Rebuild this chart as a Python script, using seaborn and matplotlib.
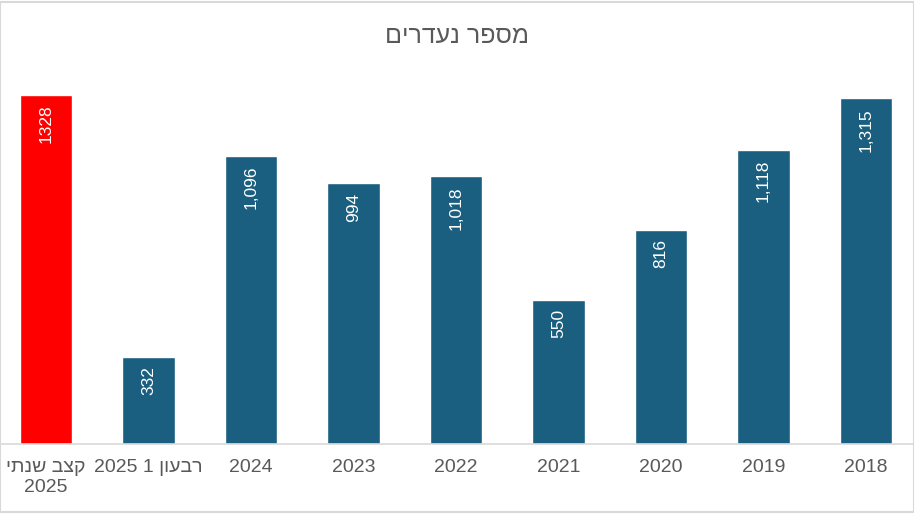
import matplotlib
matplotlib.use("Agg")
import matplotlib.pyplot as plt
import seaborn as sns
import pandas as pd

# visual order for Hebrew (matplotlib has no bidi support)
title = "םירדענ רפסמ"
categories = ["יתנש בצק\n2025", "2025 1 ןועבר", "2024", "2023", "2022",
              "2021", "2020", "2019", "2018"]
values = [1328, 332, 1096, 994, 1018, 550, 816, 1118, 1315]
value_labels = ["1328", "332", "1,096", "994", "1,018", "550", "816", "1,118", "1,315"]
colors = ["#FF0000"] + ["#1A5F80"] * 8

sns.set_theme(style="white")
plt.rcParams["font.family"] = ["Liberation Sans", "DejaVu Sans"]

df = pd.DataFrame({"cat": categories, "val": values})

fig = plt.figure(figsize=(9.14, 5.14), dpi=100)
ax = fig.add_axes([0.0, 0.136, 1.0, 0.716])

sns.barplot(data=df, x="cat", y="val", hue="cat", palette=colors,
            width=0.51, saturation=1, legend=False, ax=ax)

ax.set_xlim(-0.449, 8.468)
ax.set_ylim(0, 1400)
ax.set_xlabel("")
ax.set_ylabel("")
ax.set_yticks([])
for s in ["top", "left", "right"]:
    ax.spines[s].set_visible(False)
ax.spines["bottom"].set_color("#D9D9D9")
ax.spines["bottom"].set_linewidth(1.2)
ax.tick_params(axis="x", length=0, pad=11, labelsize=14, labelcolor="#595959")

for i, (v, lab) in enumerate(zip(values, value_labels)):
    ax.annotate(lab, xy=(i, v), xytext=(0, -7), textcoords="offset points",
                ha="center", va="top", rotation=90, color="white", fontsize=12.5)

fig.text(0.5, 0.93, title, ha="center", va="center", fontsize=18, color="#595959")

# chart border
fig.add_artist(plt.Rectangle((0, 0.003), 1, 0.994, transform=fig.transFigure,
                             fill=False, edgecolor="#D9D9D9", linewidth=1.5))

fig.savefig("out.png", dpi=100)
